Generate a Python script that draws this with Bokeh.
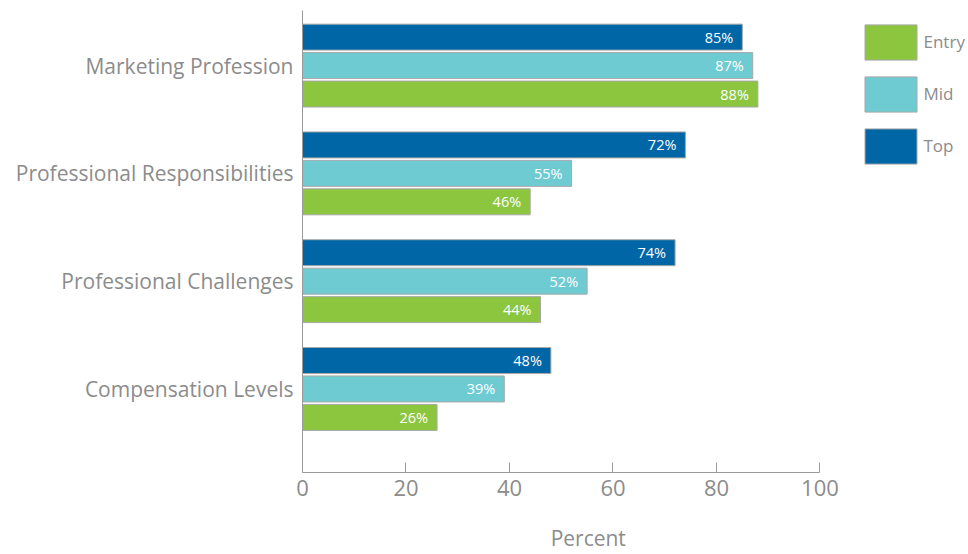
from bokeh.plotting import figure
from bokeh.models import ColumnDataSource, Range1d, FixedTicker, Legend, LegendItem
from bokeh.core.properties import value
from bokeh.embed import file_html
from bokeh.resources import INLINE

categories = ["Compensation Levels", "Professional Challenges",
              "Professional Responsibilities", "Marketing Profession"]
series = ["Entry", "Mid", "Top"]
entry_vals = [26, 46, 44, 88]
mid_vals = [39, 55, 52, 87]
top_vals = [48, 72, 74, 85]
entry_labels = ["26%", "44%", "46%", "88%"]
mid_labels = ["39%", "52%", "55%", "87%"]
top_labels = ["48%", "74%", "72%", "85%"]
colors = {"Entry": "#8cc63f", "Mid": "#6ecbd2", "Top": "#0066a6"}
x_ticks = [0, 20, 40, 60, 80, 100]
x_title = "Percent"

FONT = "Open Sans"
GREY = "#8c8c8c"

p = figure(width=968, height=554, output_backend="svg", toolbar_location=None,
           x_range=Range1d(0, 128.7), y_range=Range1d(-0.775, 3.511),
           min_border_left=302, min_border_right=0, min_border_top=10,
           min_border_bottom=82)
p.outline_line_color = None
p.xgrid.visible = False
p.ygrid.visible = False

offsets = {"Entry": -0.264, "Mid": 0.0, "Top": 0.264}
vals = {"Entry": entry_vals, "Mid": mid_vals, "Top": top_vals}
labs = {"Entry": entry_labels, "Mid": mid_labels, "Top": top_labels}
renderers = {}
for s in series:
    ys = [i + offsets[s] for i in range(len(categories))]
    src = ColumnDataSource(dict(y=ys, v=vals[s], lab=labs[s]))
    r = p.hbar(y="y", right="v", left=0, height=0.241, source=src,
               fill_color=colors[s], line_color="#a8a8a8", line_width=1)
    renderers[s] = r
    p.text(x="v", y="y", text="lab", source=src, x_offset=-9,
           text_align="right", text_baseline="middle", text_color="white",
           text_font_size="14.5px", text_font=value(FONT))

legend = Legend(items=[LegendItem(label=s, renderers=[renderers[s]]) for s in series],
                location=(555.5, 304.4), orientation="vertical",
                glyph_width=65, glyph_height=44, spacing=8, label_standoff=1,
                margin=0, padding=0, border_line_color=None,
                background_fill_alpha=0, label_text_font=FONT,
                label_text_font_size="17px", label_text_color=GREY,
                label_height=44)
p.add_layout(legend)

xa = p.xaxis[0]
xa.bounds = (0, 100)
xa.ticker = FixedTicker(ticks=x_ticks)
xa.axis_line_color = "#9a9a9a"
xa.major_tick_line_color = "#9a9a9a"
xa.major_tick_in = 10
xa.major_tick_out = 0
xa.minor_tick_line_color = None
xa.major_label_text_font = FONT
xa.major_label_text_font_size = "22px"
xa.major_label_text_color = GREY
xa.major_label_standoff = 7
# trailing em/en spaces shift the centred title left, under the plotted range
xa.axis_label = x_title + "\u2003" * 4 + "\u2002"
xa.axis_label_text_font = FONT
xa.axis_label_text_font_size = "21px"
xa.axis_label_text_font_style = "normal"
xa.axis_label_text_color = GREY
xa.axis_label_standoff = 25

ya = p.yaxis[0]
ya.ticker = FixedTicker(ticks=list(range(len(categories))))
ya.major_label_overrides = {i: c for i, c in enumerate(categories)}
ya.axis_line_color = "#9a9a9a"
ya.major_tick_line_color = None
ya.minor_tick_line_color = None
ya.major_label_text_font = FONT
ya.major_label_text_font_size = "21px"
ya.major_label_text_color = GREY
ya.major_label_standoff = 3

open("out.html", "w").write(file_html(p, INLINE))
